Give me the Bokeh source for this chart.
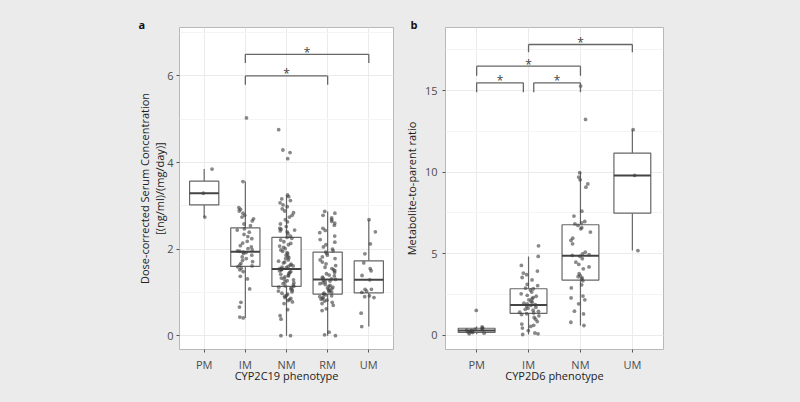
from bokeh.plotting import figure
from bokeh.layouts import row
from bokeh.models import ColumnDataSource, Range1d, FixedTicker, SingleIntervalTicker, LinearAxis
from bokeh.transform import jitter
from bokeh.core.properties import value
from bokeh.embed import file_html
from bokeh.resources import INLINE

FONT = "Open Sans"

# ---------------- Panel a: CYP2C19 ----------------
cats_a = ["PM", "IM", "NM", "RM", "UM"]
pts_a = {
    "PM": [2.74, 3.29, 3.85],
    "IM": [5.03, 3.56, 2.96, 2.92, 2.88, 2.83, 2.78, 2.74, 2.70, 2.65, 2.58, 2.54, 2.47, 2.44,
           2.39, 2.34, 2.29, 2.24, 2.18, 2.14, 2.08, 2.05, 2.01, 1.98, 1.96, 1.95, 1.93, 1.92,
           1.90, 1.86, 1.82, 1.78, 1.74, 1.71, 1.67, 1.63, 1.61, 1.59, 1.56, 1.52, 1.48, 1.37,
           1.31, 1.08, 0.77, 0.66, 0.43, 0.41],
    "NM": [0.00, 0.00, 0.38, 0.46, 0.60, 0.74, 0.78, 0.81, 0.83, 0.86, 0.88, 0.91, 0.93, 0.96,
           0.98, 1.01, 1.03, 1.05, 1.08, 1.10, 1.12, 1.14, 1.15, 1.17, 1.20, 1.22, 1.24, 1.27,
           1.29, 1.31, 1.33, 1.36, 1.38, 1.40, 1.42, 1.44, 1.46, 1.48, 1.50, 1.52, 1.53, 1.54,
           1.55, 1.57, 1.58, 1.60, 1.61, 1.63, 1.65, 1.68, 1.70, 1.72, 1.75, 1.78, 1.80, 1.83,
           1.86, 1.89, 1.92, 1.95, 1.98, 2.01, 2.04, 2.07, 2.10, 2.13, 2.17, 2.21, 2.25, 2.27,
           2.30, 2.36, 2.40, 2.42, 2.44, 2.46, 2.48, 2.52, 2.58, 2.63, 2.68, 2.74, 2.78, 2.84,
           2.88, 2.93, 2.98, 3.02, 3.07, 3.12, 3.16, 3.21, 3.25, 4.09, 4.23, 4.29, 4.76],
    "RM": [0.00, 0.02, 0.08, 0.58, 0.62, 0.70, 0.74, 0.77, 0.80, 0.82, 0.84, 0.86, 0.88, 0.90,
           0.92, 0.94, 0.96, 0.98, 1.00, 1.02, 1.04, 1.06, 1.08, 1.10, 1.12, 1.14, 1.16, 1.18,
           1.20, 1.22, 1.24, 1.26, 1.28, 1.30, 1.31, 1.33, 1.35, 1.38, 1.40, 1.43, 1.46, 1.50,
           1.52, 1.55, 1.58, 1.62, 1.66, 1.70, 1.75, 1.78, 1.82, 1.86, 1.90, 1.93, 1.96, 2.00,
           2.05, 2.10, 2.16, 2.22, 2.30, 2.38, 2.43, 2.48, 2.55, 2.60, 2.64, 2.68, 2.72, 2.78,
           2.83, 2.87],
    "UM": [2.68, 2.40, 2.12, 1.89, 1.68, 1.55, 1.50, 1.39, 1.29, 1.07, 1.07, 1.03, 1.00, 0.92,
           0.90, 0.88, 0.52, 0.21],
}
box_a_low = [2.74, 0.41, 0.00, 0.00, 0.21]
box_a_q1 = [3.02, 1.60, 1.14, 0.96, 0.99]
box_a_med = [3.29, 1.94, 1.54, 1.30, 1.29]
box_a_q3 = [3.57, 2.49, 2.27, 1.93, 1.73]
box_a_high = [3.85, 3.56, 3.25, 2.87, 2.68]
# brackets: start category, end category, bar height, tip height
brk_a_x0 = [2, 2]
brk_a_x1 = [4, 5]
brk_a_y = [6.00, 6.50]
brk_a_tip = [5.80, 6.30]

# ---------------- Panel b: CYP2D6 ----------------
cats_b = ["PM", "IM", "NM", "UM"]
pts_b = {
    "PM": [0.10, 0.14, 0.18, 0.20, 0.22, 0.25, 0.28, 0.30, 0.32, 0.35, 0.38, 0.42, 0.47, 0.52, 1.53],
    "IM": [0.06, 0.10, 0.15, 0.30, 0.45, 0.55, 0.62, 0.70, 0.85, 1.00, 1.10, 1.20, 1.28, 1.33,
           1.38, 1.42, 1.48, 1.55, 1.60, 1.66, 1.72, 1.78, 1.84, 1.88, 1.93, 1.98, 2.04, 2.10,
           2.18, 2.25, 2.32, 2.40, 2.46, 2.55, 2.66, 2.78, 2.86, 2.90, 3.05, 3.13, 3.40, 3.55,
           3.72, 3.82, 3.94, 4.29, 4.84, 5.49],
    "NM": [0.61, 0.81, 1.32, 1.49, 1.94, 2.18, 2.30, 2.41, 2.91, 3.10, 3.35, 3.47, 3.53, 3.60,
           3.67, 3.78, 4.08, 4.20, 4.35, 4.49, 4.70, 4.85, 4.90, 4.95, 5.00, 5.10, 5.61, 5.82,
           5.96, 6.33, 6.53, 6.60, 6.74, 6.84, 6.90, 6.98, 7.31, 7.61, 9.08, 9.28, 9.53, 9.70,
           9.97, 13.23, 15.27],
    "UM": [5.20, 9.80, 12.60],
}
box_b_low = [0.08, 0.06, 0.61, 5.20]
box_b_q1 = [0.19, 1.35, 3.39, 7.49]
box_b_med = [0.30, 1.86, 4.88, 9.80]
box_b_q3 = [0.44, 2.86, 6.78, 11.17]
box_b_high = [0.55, 4.84, 10.00, 12.60]
brk_b_x0 = [1.0, 2.1, 1.0, 2.0]
brk_b_x1 = [1.9, 3.0, 3.0, 4.0]
brk_b_y = [15.47, 15.47, 16.49, 17.82]
brk_b_tip = [14.90, 14.90, 15.90, 17.35]

BOX_W = 0.71
GREY_TXT = "#4d4d4d"
W, H = 400, 402


def style_axis_label(ax):
    ax.axis_label_text_font = FONT
    ax.axis_label_text_font_size = "11px"
    ax.axis_label_text_font_style = "normal"
    ax.axis_label_text_color = "#222222"


def make_panel(cats, pts, low, q1, med, q3, high, bx0, bx1, by, btip,
               yr, ytick, xlabel, ylabels, tag, tag_off, frame_left, frame_w,
               ylab_standoff, ytick_standoff):
    n = len(cats)
    xs = list(range(1, n + 1))
    p = figure(width=W, height=H, x_range=Range1d(0.4, n + 0.6), y_range=Range1d(*yr),
               output_backend="svg", toolbar_location=None,
               min_border_left=frame_left, min_border_right=W - frame_left - frame_w,
               min_border_top=27, min_border_bottom=53)
    p.background_fill_color = "white"
    p.border_fill_color = "#ebebeb"
    p.outline_line_color = "#b8b8b8"
    p.outline_line_width = 1

    p.title.text = tag
    p.title.align = "left"
    p.title.offset = tag_off
    p.title.standoff = -8
    p.title.text_font = FONT
    p.title.text_font_size = "11px"
    p.title.text_font_style = "bold"
    p.title.text_color = "#111111"

    # grids
    p.xaxis.ticker = FixedTicker(ticks=xs)
    p.xaxis.major_label_overrides = {i: c for i, c in zip(xs, cats)}
    p.yaxis.ticker = SingleIntervalTicker(interval=ytick, num_minor_ticks=2)
    p.xgrid.grid_line_color = "#ebebeb"
    p.ygrid.grid_line_color = "#ebebeb"
    p.ygrid.minor_grid_line_color = "#f4f4f4"

    for ax in (p.xaxis, p.yaxis):
        ax.axis_line_color = None
        ax.major_tick_line_color = "#555555"
        ax.major_tick_out = 3
        ax.major_tick_in = 0
        ax.minor_tick_line_color = None
        ax.major_label_text_font = FONT
        ax.major_label_text_font_size = "11px"
        ax.major_label_text_color = GREY_TXT
        style_axis_label(ax)
    p.xaxis.major_label_standoff = 4
    p.xaxis.axis_label_standoff = -7
    p.yaxis.major_label_standoff = ytick_standoff
    p.yaxis.axis_label_standoff = ylab_standoff
    p.xaxis.axis_label = xlabel
    p.yaxis.axis_label = ylabels[-1]
    # additional (outer) y-title lines
    for extra in ylabels[-2::-1]:
        ax2 = LinearAxis(ticker=FixedTicker(ticks=[]), axis_label=extra)
        ax2.axis_line_color = None
        ax2.major_tick_line_color = None
        ax2.minor_tick_line_color = None
        ax2.major_tick_out = 0
        ax2.major_tick_in = 0
        ax2.major_label_standoff = 0
        ax2.axis_label_standoff = -2
        style_axis_label(ax2)
        p.add_layout(ax2, "left")

    # boxes
    src = ColumnDataSource(dict(
        x=xs, low=low, q1=q1, med=med, q3=q3, high=high,
        xl=[x - BOX_W / 2 for x in xs], xr=[x + BOX_W / 2 for x in xs]))
    p.segment(x0="x", x1="x", y0="q3", y1="high", source=src, line_color="#666666", line_width=1.2)
    p.segment(x0="x", x1="x", y0="q1", y1="low", source=src, line_color="#666666", line_width=1.2)
    p.quad(left="xl", right="xr", bottom="q1", top="q3", source=src,
           fill_color="white", line_color="#666666", line_width=1.2)
    p.segment(x0="xl", x1="xr", y0="med", y1="med", source=src, line_color="#444444", line_width=2)

    # jittered points
    px, py = [], []
    for i, c in enumerate(cats):
        px += [i + 1] * len(pts[c])
        py += pts[c]
    psrc = ColumnDataSource(dict(x=px, y=py))
    p.scatter(x=jitter("x", width=0.4, distribution="uniform"), y="y", source=psrc,
              size=3.8, fill_color="#404040", line_color=None, fill_alpha=0.62)

    # significance brackets
    bsrc = ColumnDataSource(dict(x0=bx0, x1=bx1, y=by, tip=btip,
                                 xm=[(a + b) / 2 for a, b in zip(bx0, bx1)],
                                 t=["*"] * len(bx0)))
    p.segment(x0="x0", x1="x1", y0="y", y1="y", source=bsrc, line_color="#666666", line_width=1.3)
    p.segment(x0="x0", x1="x0", y0="y", y1="tip", source=bsrc, line_color="#666666", line_width=1.3)
    p.segment(x0="x1", x1="x1", y0="y", y1="tip", source=bsrc, line_color="#666666", line_width=1.3)
    p.text(x="xm", y="y", text="t", source=bsrc, text_font=value(FONT), text_font_size="12px",
           text_color="#444444", text_align="center", text_baseline="alphabetic", y_offset=-2)
    return p


pa = make_panel(cats_a, pts_a, box_a_low, box_a_q1, box_a_med, box_a_q3, box_a_high,
                brk_a_x0, brk_a_x1, brk_a_y, brk_a_tip, (-0.32, 7.12), 2,
                "CYP2C19 phenotype",
                ["Dose-corrected Serum Concentration", "[(ng/ml)/(mg/day)]"],
                "a", -41, 179, 214, -3, 2)
pb = make_panel(cats_b, pts_b, box_b_low, box_b_q1, box_b_med, box_b_q3, box_b_high,
                brk_b_x0, brk_b_x1, brk_b_y, brk_b_tip, (-0.86, 18.86), 5,
                "CYP2D6 phenotype", ["Metabolite-to-parent ratio"],
                "b", -35, 42, 221, 3, 4)

layout = row(pa, pb)
html = file_html(layout, INLINE)
html = html.replace("<head>", "<head><style>html,body{background:#ebebeb;}</style>", 1)
open("out.html", "w").write(html)
